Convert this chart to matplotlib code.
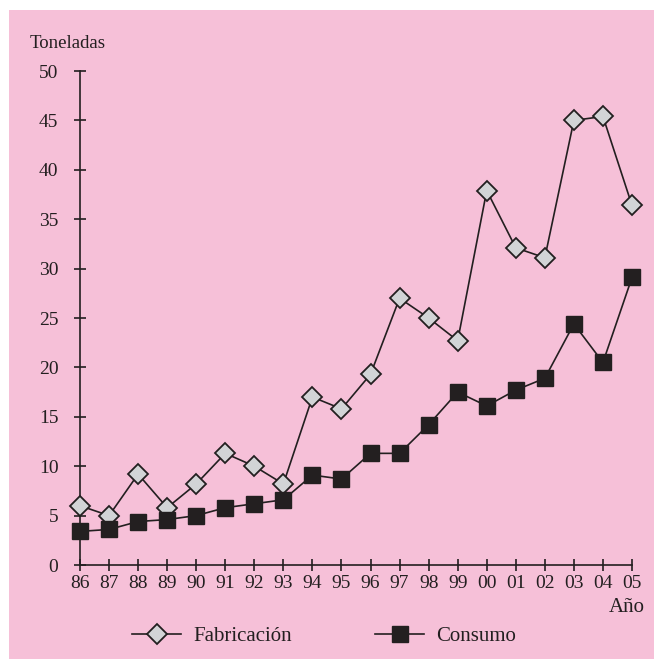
import matplotlib
matplotlib.use('Agg')
import matplotlib.pyplot as plt
from matplotlib.patches import Rectangle

years = ['86', '87', '88', '89', '90', '91', '92', '93', '94', '95',
         '96', '97', '98', '99', '00', '01', '02', '03', '04', '05']
fabricacion = [6.0, 5.0, 9.2, 5.8, 8.2, 11.3, 10.0, 8.2, 17.0, 15.8,
               19.3, 27.0, 25.0, 22.7, 37.9, 32.1, 31.1, 45.0, 45.4, 36.4]
consumo = [3.4, 3.6, 4.4, 4.6, 5.0, 5.8, 6.2, 6.6, 9.1, 8.7,
           11.3, 11.3, 14.2, 17.5, 16.1, 17.7, 18.9, 24.4, 20.5, 29.1]
yticks = [0, 5, 10, 15, 20, 25, 30, 35, 40, 45, 50]

plt.rcParams['font.family'] = ['Liberation Serif', 'DejaVu Serif']
pink = '#f6c0d8'
ink = '#231f20'

W, H = 654, 659
fig = plt.figure(figsize=(W / 100, H / 100), dpi=100, facecolor='white')
fig.patches.append(Rectangle((9 / W, 0), 1, 1 - 10 / H, transform=fig.transFigure,
                             facecolor=pink, edgecolor='none', zorder=-1))

ax = fig.add_axes([80 / W, (H - 565) / H, (632 - 80) / W, (565 - 71) / H])
ax.set_facecolor('none')

x = list(range(len(years)))
ax.plot(x, fabricacion, color=ink, lw=1.2, marker='D', ms=10, mfc='#d2d4d6',
        mec=ink, mew=1.3, clip_on=False, zorder=3, label='Fabricación')
ax.plot(x, consumo, color=ink, lw=1.2, marker='s', ms=11, mfc=ink,
        mec=ink, clip_on=False, zorder=3, label='Consumo')

ax.set_xlim(0, len(years) - 1)
ax.set_ylim(0, 50)
ax.set_xticks(x)
ax.set_xticklabels(years)
ax.set_yticks(yticks)
for s in ['top', 'right']:
    ax.spines[s].set_visible(False)
for s in ['left', 'bottom']:
    ax.spines[s].set_color(ink)
    ax.spines[s].set_linewidth(1.2)
ax.tick_params(direction='inout', length=9, width=1.2, color=ink,
               labelsize=14, labelcolor=ink)
ax.tick_params(axis='y', pad=11)
ax.tick_params(axis='x', pad=3)

fig.text(30 / W, 1 - 43 / H, 'Toneladas', fontsize=13.5, color=ink,
         ha='left', va='center')
fig.text(645 / W, 1 - 608 / H, 'Año', fontsize=15, color=ink,
         ha='right', va='center')

fig.legend(loc='center', bbox_to_anchor=(324 / W, 1 - 636 / H), ncol=2,
           frameon=False, fontsize=15, handlelength=2.35, handletextpad=0.58,
           columnspacing=4.0, labelcolor=ink, borderpad=0, borderaxespad=0)

fig.savefig('out.png', dpi=100, facecolor='white')
